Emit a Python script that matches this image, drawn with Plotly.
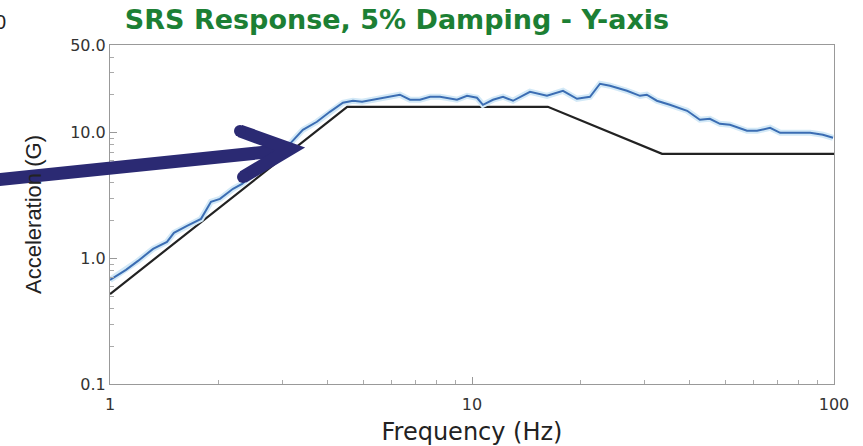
import plotly.graph_objects as go

# Measured SRS response (blue), Y-axis, 5% damping
resp_freq = [1.00, 1.107, 1.195, 1.315, 1.437, 1.502, 1.632, 1.784, 1.901, 2.013, 2.187, 2.316,
             3.14, 3.41, 3.73, 4.05, 4.40, 4.69, 4.97, 5.33, 5.82, 6.32, 6.74, 7.18, 7.66, 8.16,
             9.09, 9.69, 10.32, 10.72, 11.43, 12.18, 12.98, 14.46, 16.11, 17.84, 19.5, 21.18,
             22.57, 24.05, 26.8, 29.1, 30.4, 32.4, 35.2, 39.3, 42.6, 45.4, 48.4, 51.6, 57.5,
             61.3, 66.6, 71.0, 77.0, 85.9, 93.2, 99.4]
resp_acc = [0.674, 0.810, 0.955, 1.19, 1.354, 1.597, 1.815, 2.064, 2.82, 2.98, 3.58, 3.92,
            8.17, 10.56, 12.24, 14.69, 17.34, 17.99, 17.66, 18.33, 19.0, 20.1, 18.33, 18.33, 19.36, 19.36,
            18.33, 19.7, 19.0, 16.71, 18.33, 19.36, 17.99, 21.2, 19.7, 21.6, 18.66, 19.36,
            24.57, 23.7, 21.6, 19.7, 20.1, 18.0, 16.71, 14.97, 12.70, 12.93, 11.79, 11.58, 10.37,
            10.37, 10.96, 10.0, 10.0, 10.0, 9.64, 9.12]

# Reference (requirement) spectrum, black
spec_freq = [1.0, 4.52, 16.2, 33.5, 100.0]
spec_acc = [0.52, 16.1, 16.1, 6.8, 6.8]

x_tickvals = [1, 10, 100]
x_ticktext = ["1", "10", "100"]
y_tickvals = [0.1, 1, 10, 50]
y_ticktext = ["0.1", "1.0", "10.0", "50.0"]

W, H = 863, 446
ML, MR, MT, MB = 110, 29, 45, 62
PW, PH = W - ML - MR, H - MT - MB

def px(xp):
    return (xp - ML) / PW

def py(yp):
    return (H - MB - yp) / PH

TICKFONT = dict(family="DejaVu Sans, sans-serif", size=16, color="#333333")

fig = go.Figure()
fig.add_trace(go.Scatter(x=spec_freq, y=spec_acc, mode="lines",
                         line=dict(color="#222222", width=2.2), hoverinfo="skip"))
fig.add_trace(go.Scatter(x=resp_freq, y=resp_acc, mode="lines",
                         line=dict(color="#d3e9f7", width=6), hoverinfo="skip"))
fig.add_trace(go.Scatter(x=resp_freq, y=resp_acc, mode="lines",
                         line=dict(color="#3b6db3", width=2)))

axis_common = dict(
    showline=True, linecolor="#999999", linewidth=1, mirror=True,
    ticks="inside", ticklen=7, tickcolor="#999999", showgrid=False, zeroline=False,
    tickfont=TICKFONT,
    minor=dict(dtick="D1", ticks="inside", ticklen=4, tickcolor="#aaaaaa", showgrid=False),
)

fig.update_xaxes(type="log", range=[0, 2], tickvals=x_tickvals, ticktext=x_ticktext,
                 ticklabelstandoff=6,
                 title=dict(text="Frequency (Hz)", standoff=9,
                            font=dict(family="DejaVu Sans, sans-serif", size=24, color="#222222")),
                 **axis_common)
fig.update_yaxes(type="log", range=[-1, 1.69897], tickvals=y_tickvals, ticktext=y_ticktext,
                 title=dict(text="Acceleration (G)", standoff=22,
                            font=dict(family="Liberation Sans, Arial, sans-serif", size=22, color="#222222")),
                 **axis_common)

arrow_color = "#2b2a73"
shapes = [
    dict(type="line", xref="paper", yref="paper", x0=px(-5), y0=py(180), x1=px(286), y1=py(150),
         line=dict(color=arrow_color, width=13)),
    dict(type="path", xref="paper", yref="paper",
         path=f"M {px(240)} {py(131)} L {px(290)} {py(149)} L {px(243)} {py(177)}",
         line=dict(color=arrow_color, width=13)),
    dict(type="circle", xref="paper", yref="paper", x0=px(234), y0=py(125), x1=px(246), y1=py(137),
         fillcolor=arrow_color, line=dict(width=0)),
    dict(type="circle", xref="paper", yref="paper", x0=px(237), y0=py(171), x1=px(249), y1=py(183),
         fillcolor=arrow_color, line=dict(width=0)),
]

fig.update_layout(
    width=W, height=H,
    margin=dict(l=ML, r=MR, t=MT, b=MB, autoexpand=False),
    paper_bgcolor="white", plot_bgcolor="white",
    showlegend=False,
    title=dict(text="<b>SRS Response, 5% Damping - Y-axis</b>",
               x=px(397), xref="paper", xanchor="center",
               y=1 - 20 / H, yref="container", yanchor="middle",
               font=dict(family="DejaVu Sans, sans-serif", size=27, color="#1c7f34")),
    shapes=shapes,
    annotations=[dict(text="0", xref="paper", yref="paper", x=px(8), y=py(22),
                      xanchor="right", yanchor="middle", showarrow=False,
                      font=dict(family="Liberation Sans, Arial, sans-serif", size=20, color="#222222"))],
)

fig.write_html("out.html", config={"displayModeBar": False},
               post_script="document.body.style.margin='0';document.body.style.overflow='hidden';")
